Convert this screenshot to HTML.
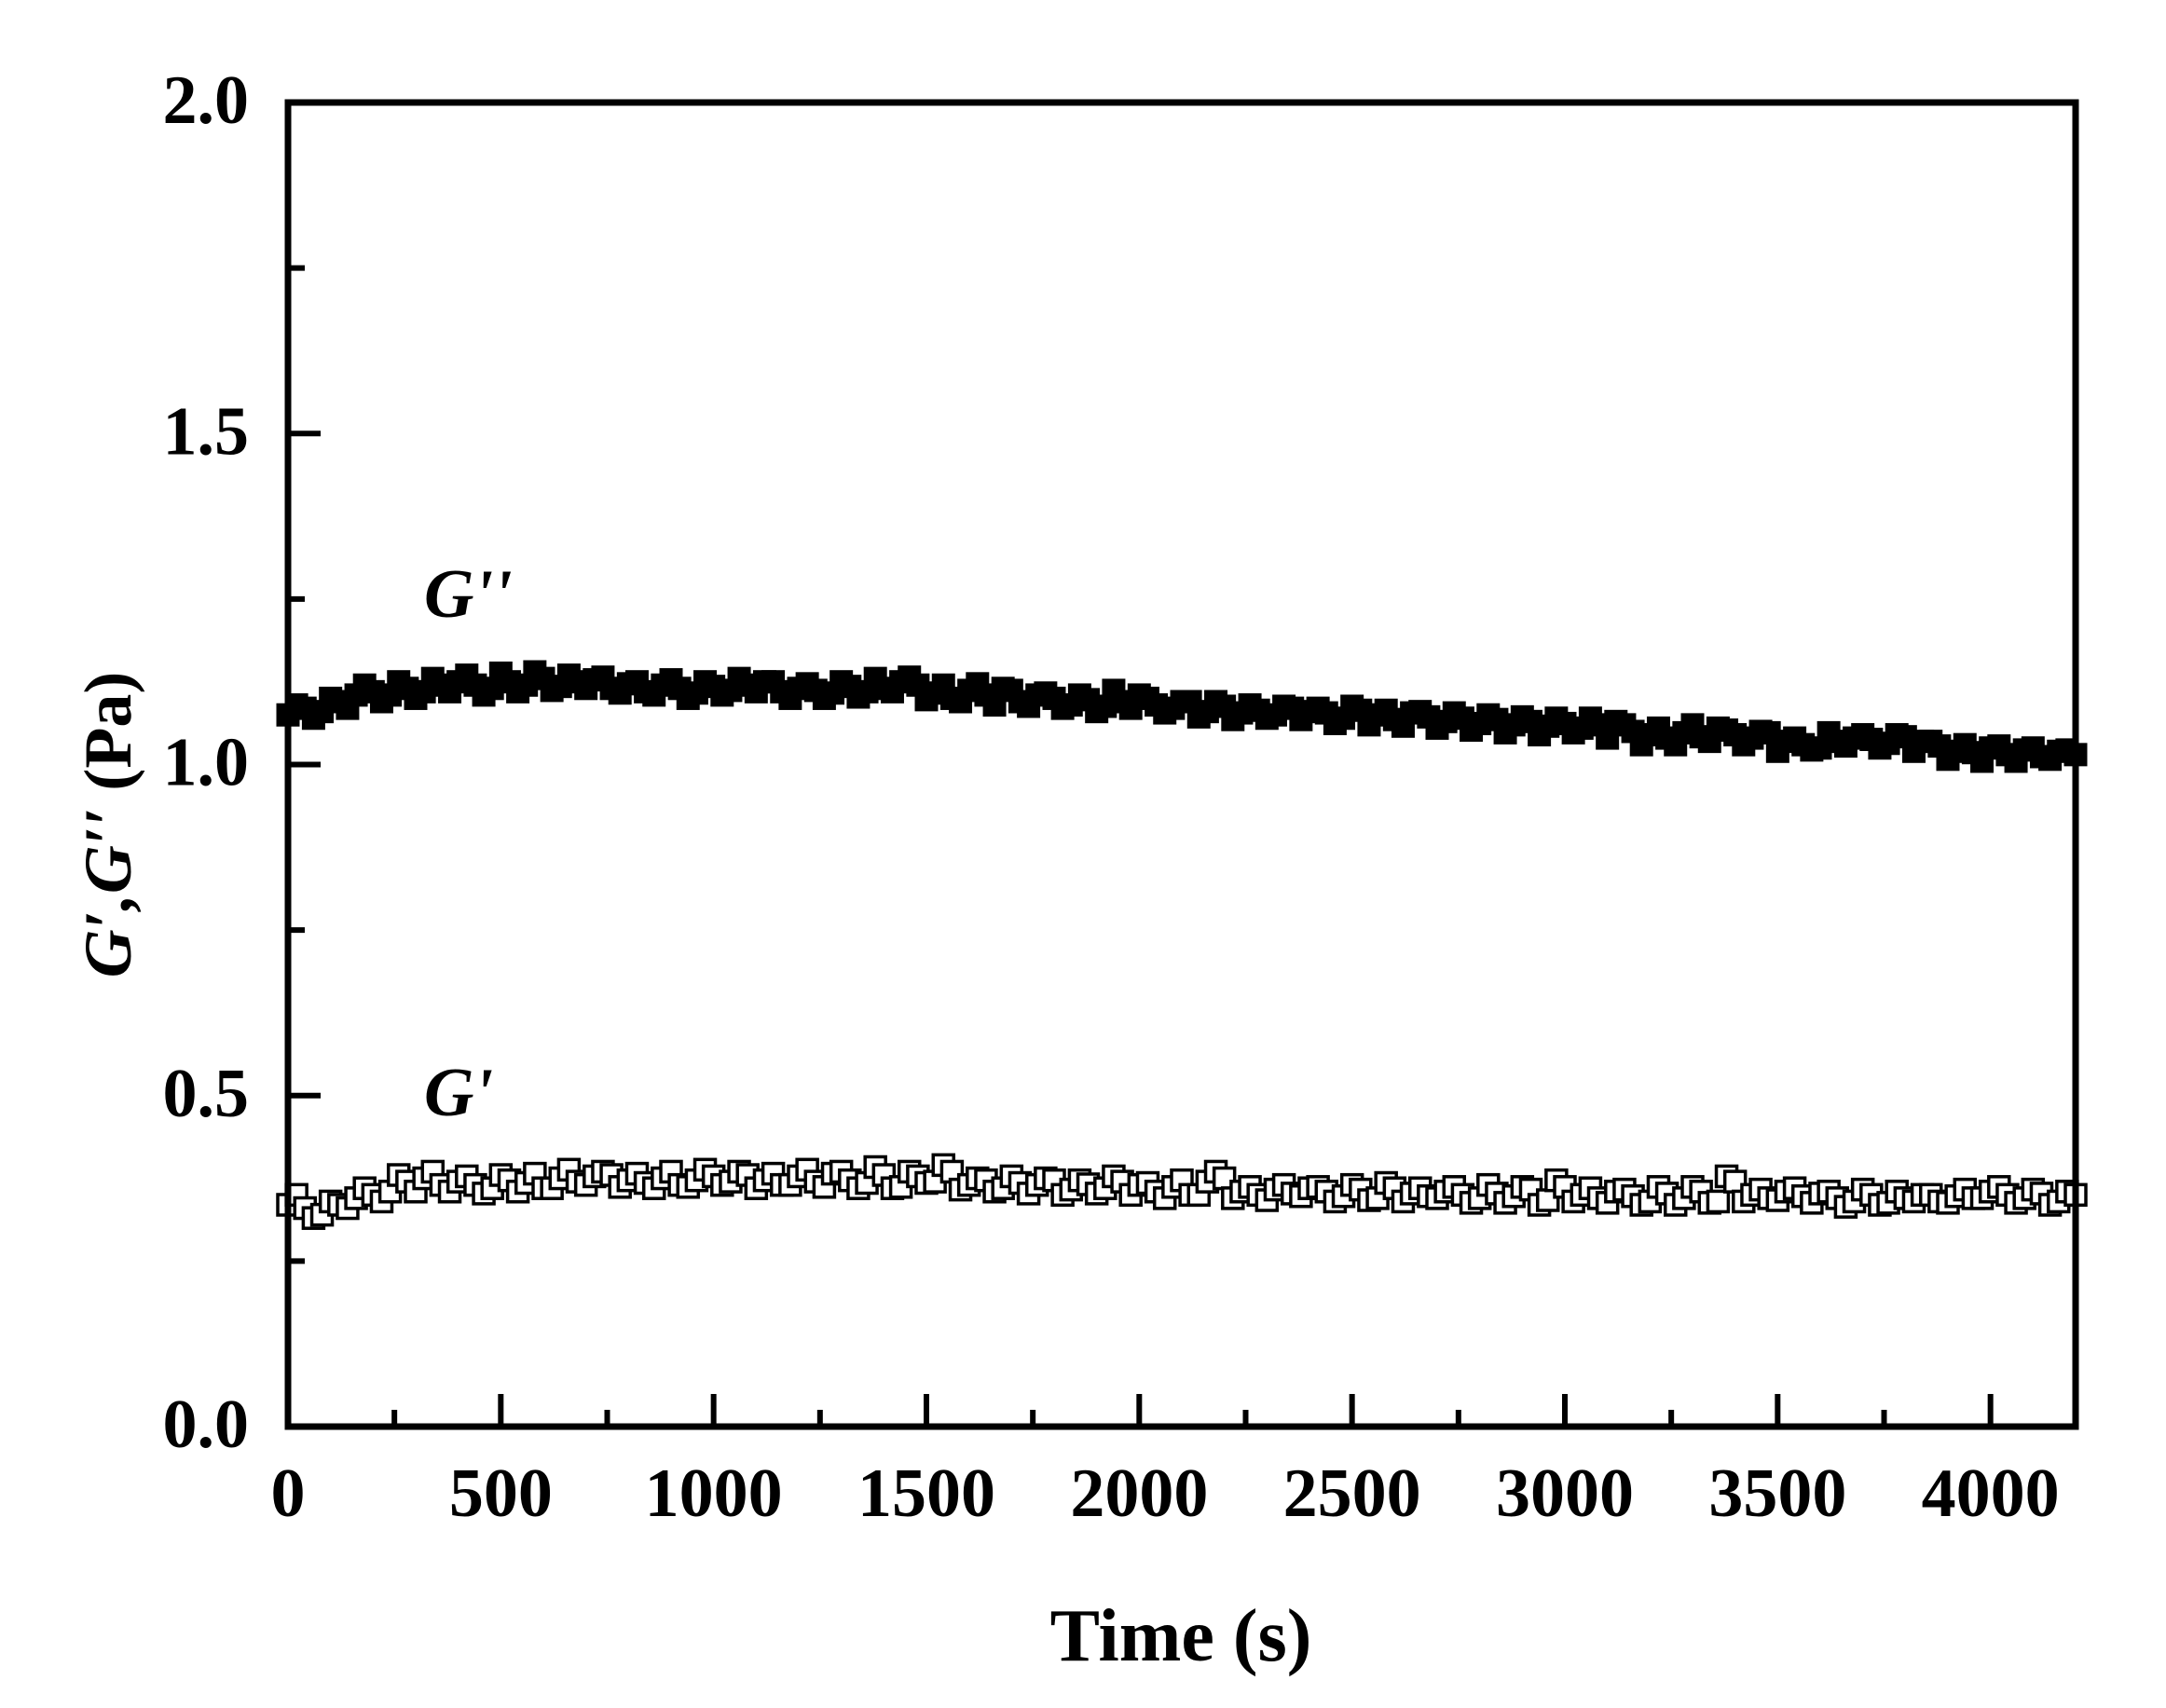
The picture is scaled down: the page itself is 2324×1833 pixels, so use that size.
<!DOCTYPE html>
<html><head><meta charset="utf-8"><style>
html,body{margin:0;padding:0;background:#fff;}
svg{display:block;font-family:"Liberation Serif",serif;}
</style></head><body>
<svg id="chart" width="2324" height="1833" viewBox="0 0 2324 1833" xmlns="http://www.w3.org/2000/svg">
<rect width="2324" height="1833" fill="#fff"/>
<g id="marks-gpp"></g>
<g id="marks-gp"></g>
<g id="axes"></g>
<text x="455" y="662" font-size="74" font-style="italic" font-weight="bold">G''</text>
<text x="455" y="1197" font-size="74" font-style="italic" font-weight="bold">G'</text>
<text transform="translate(140,885) rotate(-90)" text-anchor="middle" font-size="72" font-weight="bold"><tspan font-style="italic">G′,G′′</tspan> (Pa)</text>
<text x="1267" y="1782" text-anchor="middle" font-size="80" font-weight="bold">Time (s)</text>
</svg>
<script>
const times = [];
for (let t = 0; t <= 4200; t += 40) times.push(t);
const timesB = [];
for (let t = 20; t < 4200; t += 40) timesB.push(t);
const gDoublePrime = [
1.075,1.085,1.080,1.095,1.105,1.110,1.105,1.115,1.110,1.120,1.125,
1.120,1.115,1.125,1.120,1.130,1.118,1.125,1.128,1.115,1.122,
1.110,1.120,1.115,1.108,1.118,1.112,1.120,1.125,1.110,1.115,
1.112,1.108,1.118,1.110,1.115,1.125,1.120,1.108,1.100,1.112,
1.105,1.115,1.095,1.105,1.100,1.090,1.098,1.088,1.095,1.105,
1.090,1.085,1.095,1.080,1.088,1.078,1.082,1.075,1.085,1.080,
1.078,1.070,1.082,1.075,1.068,1.078,1.072,1.065,1.070,1.062,
1.068,1.060,1.065,1.058,1.062,1.055,1.060,1.065,1.050,1.045,
1.040,1.048,1.042,1.055,1.045,1.040,1.048,1.035,1.030,1.025,
1.035,1.040,1.038,1.032,1.042,1.035,1.028,1.020,1.018,1.025,
1.015,1.022,1.012,1.020,1.015];
const gDoublePrimeB = [
1.090,1.070,1.100,1.085,1.120,1.095,1.125,1.100,1.130,1.110,
1.135,1.105,1.138,1.110,1.140,1.112,1.135,1.115,1.132,1.108,
1.125,1.105,1.128,1.100,1.125,1.105,1.130,1.110,1.125,1.100,
1.122,1.100,1.125,1.102,1.130,1.110,1.132,1.098,1.120,1.095,
1.122,1.090,1.112,1.088,1.108,1.085,1.105,1.080,1.112,1.085,
1.100,1.078,1.095,1.072,1.095,1.068,1.090,1.070,1.088,1.068,
1.085,1.062,1.088,1.060,1.082,1.058,1.080,1.055,1.078,1.052,
1.075,1.048,1.072,1.045,1.070,1.048,1.070,1.040,1.060,1.030,
1.055,1.030,1.060,1.035,1.052,1.030,1.050,1.020,1.040,1.022,
1.048,1.028,1.045,1.025,1.045,1.020,1.035,1.008,1.030,1.005,
1.028,1.005,1.025,1.008,1.022];
const gPrime = [
0.335,0.330,0.320,0.335,0.345,0.350,0.355,0.370,0.375,0.365,0.370,
0.365,0.360,0.372,0.368,0.360,0.375,0.370,0.378,0.380,0.372,
0.368,0.375,0.365,0.372,0.378,0.370,0.380,0.372,0.365,0.378,
0.370,0.382,0.372,0.368,0.380,0.362,0.378,0.370,0.385,0.365,
0.372,0.360,0.368,0.365,0.372,0.358,0.366,0.360,0.370,0.365,
0.355,0.362,0.350,0.370,0.375,0.355,0.350,0.358,0.352,0.360,
0.355,0.348,0.358,0.345,0.360,0.352,0.348,0.355,0.350,0.345,
0.352,0.348,0.358,0.342,0.362,0.350,0.345,0.355,0.348,0.340,
0.352,0.345,0.355,0.340,0.370,0.350,0.345,0.355,0.348,0.352,
0.345,0.340,0.350,0.338,0.345,0.350,0.340,0.348,0.345,0.355,
0.350,0.345,0.352,0.340,0.350];
const gPrimeB = [
0.350,0.315,0.340,0.330,0.360,0.340,0.380,0.355,0.385,0.355,
0.378,0.352,0.380,0.355,0.382,0.360,0.388,0.365,0.385,0.362,
0.382,0.360,0.385,0.362,0.388,0.365,0.385,0.360,0.382,0.365,
0.388,0.362,0.385,0.360,0.392,0.360,0.385,0.368,0.395,0.358,
0.375,0.355,0.378,0.352,0.375,0.350,0.372,0.352,0.378,0.350,
0.368,0.345,0.372,0.350,0.385,0.345,0.362,0.342,0.365,0.348,
0.362,0.340,0.365,0.342,0.368,0.340,0.360,0.345,0.362,0.338,
0.365,0.338,0.362,0.335,0.372,0.340,0.360,0.338,0.358,0.335,
0.362,0.335,0.362,0.338,0.378,0.340,0.358,0.342,0.360,0.338,
0.355,0.332,0.358,0.335,0.355,0.340,0.350,0.338,0.358,0.345,
0.362,0.338,0.358,0.335,0.355];
const xTicks = [0,500,1000,1500,2000,2500,3000,3500,4000];
const xTickLabels = ["0","500","1000","1500","2000","2500","3000","3500","4000"];
const yTicks = [0,0.5,1.0,1.5,2.0];
const yTickLabels = ["0.0","0.5","1.0","1.5","2.0"];

const NS = "http://www.w3.org/2000/svg";
const X0 = 309, X1 = 2227, Y0 = 1531, Y1 = 110;
const xMin = 0, xMax = 4200, yMin = 0, yMax = 2;
const sx = v => X0 + (v - xMin) / (xMax - xMin) * (X1 - X0);
const sy = v => Y0 - (v - yMin) / (yMax - yMin) * (Y0 - Y1);
function mk(tag, attrs, parent) {
  const e = document.createElementNS(NS, tag);
  for (const k in attrs) e.setAttribute(k, attrs[k]);
  parent.appendChild(e);
  return e;
}
const S = 25;
const gpp = document.getElementById('marks-gpp');
function filled(ts, vals) {
  vals.forEach((v, i) => {
    const r = mk('rect', {x: sx(ts[i]) - S/2, y: sy(v) - S/2, width: S, height: S, fill: '#000'}, gpp);
    
    
  });
}
filled(times, gDoublePrime);
filled(timesB, gDoublePrimeB);
const gp = document.getElementById('marks-gp');
const pts = [];
gPrime.forEach((v, i) => pts.push([times[i], v]));
gPrimeB.forEach((v, i) => pts.push([timesB[i], v]));
pts.sort((a, b) => a[0] - b[0]);
pts.forEach(p => {
  const r = mk('rect', {x: sx(p[0]) - S/2 + 1.5, y: sy(p[1]) - S/2 + 1.5, width: S - 3, height: S - 3, fill: '#fff', stroke: '#000', 'stroke-width': 3.5}, gp);
  
  
});
const ax = document.getElementById('axes');
const frame = mk('rect', {x: X0, y: Y1, width: X1 - X0, height: Y0 - Y1, fill: 'none', stroke: '#000', 'stroke-width': 7}, ax);


xTicks.forEach((t, i) => {
  const tk = mk('line', {x1: sx(t), x2: sx(t), y1: Y0, y2: Y0 - 35, stroke: '#000', 'stroke-width': 6}, ax);
  
  
  const mt = t + 250;
  if (mt < xMax) {
    const m = mk('line', {x1: sx(mt), x2: sx(mt), y1: Y0, y2: Y0 - 18, stroke: '#000', 'stroke-width': 6}, ax);
    
    
  }
  const lb = mk('text', {x: sx(t), y: 1627, 'text-anchor': 'middle', 'font-size': 74, 'font-weight': 'bold'}, ax);
  lb.textContent = xTickLabels[i];
  
  
});
yTicks.forEach((v, i) => {
  const tk = mk('line', {x1: X0, x2: X0 + 35, y1: sy(v), y2: sy(v), stroke: '#000', 'stroke-width': 6}, ax);
  
  
  const mv = v + 0.25;
  if (mv < yMax) {
    const m = mk('line', {x1: X0, x2: X0 + 18, y1: sy(mv), y2: sy(mv), stroke: '#000', 'stroke-width': 6}, ax);
    
    
  }
  const lb = mk('text', {x: 267, y: sy(v) + 22, 'text-anchor': 'end', 'font-size': 74, 'font-weight': 'bold'}, ax);
  lb.textContent = yTickLabels[i];
  
  
});
</script>
</body></html>
